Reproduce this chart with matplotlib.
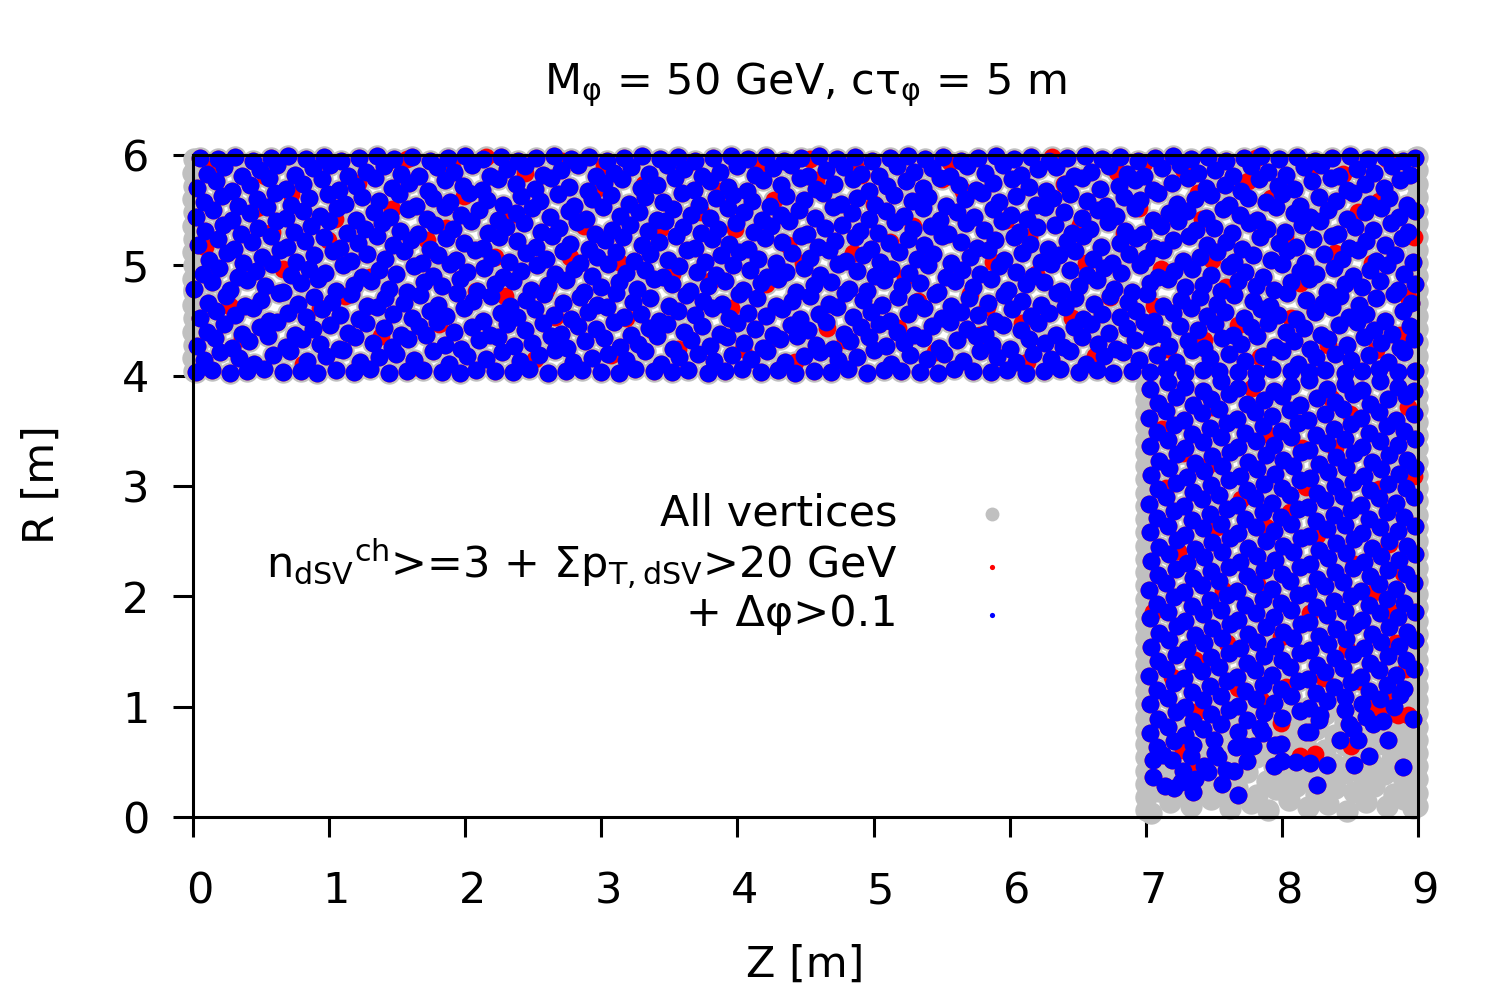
import numpy as np
import matplotlib
matplotlib.use("Agg")
import matplotlib.pyplot as plt
from matplotlib.transforms import ScaledTranslation

# vertex positions, "Z R" pairs in cm
# vertices passing all cuts (blue), barrel part R 4-6 m
blue_top = """
2 403, 14 405, 27 402, 40 404, 52 406, 66 403, 79 404, 91 402, 105 405, 118 403, 130 406, 144 402, 157 404, 169 405, 183 403, 196 402, 208 405, 222 404, 235 403, 247 406, 261 402, 274 404, 286 405, 300 403, 313 402, 325 406, 339 404, 352 403, 364 405, 378 402, 391 404, 403 406, 417 403, 430 405, 442 402, 456 404, 469 403, 481 406, 495 402, 508 405, 520 404, 534 403, 547 402, 559 406, 573 404, 586 403, 598 405, 612 402, 625 404, 637 406, 651 403, 664 405, 676 402, 690 404, 703 403, 715 406, 729 402, 742 405, 754 404, 768 403, 781 402, 793 406, 807 404, 820 403, 832 405, 846 402, 859 404, 871 406, 885 403, 898 404
8 414, 20 421, 34 416, 45 411, 59 419, 71 422, 84 413, 98 418, 110 423, 123 412, 137 417, 149 420, 162 414, 176 422, 188 411, 201 418, 215 415, 227 421, 240 413, 254 419, 266 423, 279 412, 293 416, 305 420, 318 414, 332 422, 344 411, 357 417, 371 420, 383 413, 396 419, 410 415, 422 422, 435 412, 449 418, 461 421, 474 414, 488 417, 500 423, 513 411, 527 419, 539 415, 552 420, 566 413, 578 422, 591 417, 605 412, 617 420, 630 415, 644 422, 656 411, 669 418, 683 421, 695 414, 708 419, 722 412, 734 423, 747 416, 761 420, 773 413, 786 418, 800 422, 812 411, 825 417, 839 420, 851 414, 864 419, 878 412, 890 421
3 427, 16 434, 29 425, 41 431, 55 436, 68 426, 80 433, 93 429, 107 424, 119 435, 132 430, 146 426, 158 433, 171 437, 185 428, 197 424, 210 432, 224 435, 236 427, 249 430, 263 436, 275 425, 288 431, 302 434, 314 426, 327 429, 341 436, 353 424, 366 432, 380 427, 392 435, 405 430, 419 425, 431 433, 444 436, 458 428, 470 424, 483 431, 497 435, 509 427, 522 430, 536 434, 548 425, 561 432, 575 436, 587 428, 600 424, 614 433, 626 430, 639 426, 653 435, 665 429, 678 424, 692 432, 704 436, 717 427, 731 431, 743 425, 756 434, 770 429, 782 436, 795 426, 809 431, 821 424, 834 433, 848 428, 860 435, 873 430, 887 425, 897 433
10 440, 23 447, 36 438, 49 444, 62 449, 75 437, 88 442, 101 446, 114 439, 127 448, 140 443, 153 437, 166 445, 179 449, 192 440, 205 444, 218 437, 231 447, 244 441, 257 448, 270 438, 283 445, 296 442, 309 449, 322 437, 335 443, 348 447, 361 440, 374 445, 387 438, 400 448, 413 442, 426 437, 439 446, 452 441, 465 449, 478 438, 491 444, 504 447, 517 440, 530 437, 543 445, 556 449, 569 442, 582 438, 595 446, 608 441, 621 448, 634 437, 647 444, 660 447, 673 439, 686 443, 699 449, 712 438, 725 445, 738 441, 751 447, 764 437, 777 444, 790 448, 803 440, 816 443, 829 437, 842 446, 855 449, 868 441, 881 438, 894 445
5 452, 17 459, 31 455, 44 461, 56 450, 70 457, 83 453, 95 460, 108 455, 122 451, 135 462, 147 456, 161 452, 174 459, 186 454, 199 461, 213 450, 226 457, 238 453, 251 460, 265 455, 278 451, 290 458, 304 462, 317 453, 329 456, 342 450, 356 459, 369 455, 381 461, 394 452, 408 457, 421 454, 433 460, 446 451, 460 456, 473 462, 485 453, 498 458, 512 450, 525 456, 537 461, 550 452, 564 458, 577 455, 589 450, 602 460, 616 454, 629 457, 641 462, 654 451, 668 456, 681 453, 693 459, 706 450, 720 457, 733 461, 745 454, 758 458, 772 452, 785 460, 797 455, 810 451, 824 458, 837 462, 849 453, 862 456, 876 450, 889 459
11 466, 24 472, 38 463, 50 469, 63 475, 77 465, 89 471, 102 467, 116 474, 128 463, 141 470, 155 466, 167 473, 180 464, 194 475, 206 468, 219 472, 233 463, 245 469, 258 474, 272 466, 284 471, 297 464, 311 475, 323 467, 336 470, 350 463, 362 473, 375 468, 389 465, 401 474, 414 470, 428 463, 440 468, 453 472, 467 465, 479 475, 492 469, 506 464, 518 471, 531 467, 545 474, 557 463, 570 470, 584 466, 596 473, 609 468, 623 464, 635 475, 648 470, 662 465, 674 472, 687 467, 701 474, 713 463, 726 469, 740 471, 752 465, 765 473, 779 468, 791 463, 804 475, 818 469, 830 466, 843 472, 857 464, 869 470, 882 474, 895 466
1 479, 14 485, 27 478, 40 487, 53 481, 66 476, 79 484, 92 488, 105 477, 118 482, 131 486, 144 479, 157 476, 170 485, 183 481, 196 488, 209 477, 222 483, 235 486, 248 478, 261 482, 274 487, 287 476, 300 480, 313 485, 326 479, 339 488, 352 483, 365 477, 378 481, 391 486, 404 478, 417 484, 430 488, 443 476, 456 482, 469 485, 482 479, 495 477, 508 487, 521 481, 534 484, 547 476, 560 486, 573 480, 586 488, 599 478, 612 483, 625 485, 638 477, 651 481, 664 487, 677 479, 690 476, 703 484, 716 488, 729 480, 742 482, 755 477, 768 486, 781 481, 794 478, 807 485, 820 488, 833 476, 846 483, 859 480, 872 486, 885 478, 898 483
7 492, 19 498, 33 489, 46 495, 58 501, 72 491, 85 497, 97 493, 110 500, 124 489, 137 496, 149 492, 162 499, 176 490, 189 501, 201 494, 214 498, 228 489, 241 495, 253 500, 266 492, 280 497, 293 490, 305 501, 318 493, 332 496, 345 489, 357 499, 370 494, 384 491, 397 500, 409 496, 422 489, 436 494, 449 498, 461 491, 474 501, 488 495, 501 490, 513 497, 526 493, 540 500, 553 489, 565 496, 578 492, 592 499, 605 494, 617 490, 630 501, 644 496, 657 491, 669 498, 682 493, 696 500, 709 489, 721 495, 734 497, 748 491, 761 499, 773 494, 786 489, 800 501, 813 495, 825 492, 838 498, 852 490, 865 496, 877 500, 890 492
12 505, 25 511, 37 502, 51 508, 64 514, 76 503, 89 509, 103 513, 116 504, 128 510, 141 506, 155 513, 168 502, 180 509, 193 505, 207 514, 220 507, 232 503, 245 511, 259 506, 272 513, 284 502, 297 508, 311 512, 324 504, 336 510, 349 505, 363 514, 376 503, 388 509, 401 512, 415 506, 428 502, 440 511, 453 507, 467 514, 480 504, 492 509, 505 503, 519 512, 532 506, 544 510, 557 502, 571 508, 584 514, 596 505, 609 511, 623 503, 636 509, 648 513, 661 506, 675 502, 688 510, 700 507, 713 514, 727 504, 740 508, 752 512, 765 503, 779 509, 792 505, 804 513, 817 502, 831 510, 844 506, 856 514, 869 504, 883 509, 896 503
4 518, 18 524, 30 515, 43 521, 57 527, 69 517, 82 522, 96 526, 108 516, 121 520, 135 527, 147 518, 160 523, 174 515, 186 525, 199 520, 213 516, 225 526, 238 522, 252 517, 264 527, 277 519, 291 515, 303 523, 316 526, 330 518, 342 521, 355 527, 369 516, 381 524, 394 519, 408 515, 420 525, 433 521, 447 527, 459 517, 472 522, 486 526, 498 515, 511 520, 525 524, 537 518, 550 527, 564 521, 576 516, 589 523, 603 526, 615 519, 628 515, 642 522, 654 527, 667 517, 681 520, 693 525, 706 516, 720 523, 732 527, 745 518, 759 521, 771 515, 784 526, 798 520, 810 517, 823 524, 837 527, 849 516, 862 522, 876 518, 888 525
9 531, 22 537, 35 528, 48 534, 61 540, 74 530, 87 536, 100 540, 113 529, 126 533, 139 538, 152 531, 165 528, 178 537, 191 533, 204 540, 217 529, 230 535, 243 538, 256 530, 269 534, 282 539, 295 528, 308 532, 321 537, 334 531, 347 540, 360 535, 373 529, 386 533, 399 538, 412 530, 425 536, 438 540, 451 528, 464 534, 477 537, 490 531, 503 529, 516 539, 529 533, 542 536, 555 528, 568 538, 581 532, 594 540, 607 530, 620 535, 633 537, 646 529, 659 533, 672 539, 685 531, 698 528, 711 536, 724 540, 737 532, 750 534, 763 529, 776 538, 789 533, 802 530, 815 537, 828 540, 841 528, 854 535, 867 532, 880 538, 893 530
2 544, 15 550, 29 541, 42 547, 54 553, 68 543, 81 549, 93 545, 106 552, 120 541, 133 548, 145 544, 158 551, 172 542, 185 553, 197 546, 210 550, 224 541, 237 547, 249 552, 262 544, 276 549, 289 542, 301 553, 314 545, 328 548, 341 541, 353 551, 366 546, 380 543, 393 552, 405 548, 418 541, 432 546, 445 550, 457 543, 470 553, 484 547, 497 542, 509 549, 522 545, 536 552, 549 541, 561 548, 574 544, 588 551, 601 546, 613 542, 626 553, 640 548, 653 543, 665 550, 678 545, 692 552, 705 541, 717 547, 730 549, 744 543, 757 551, 769 546, 782 541, 796 553, 809 547, 821 544, 834 550, 848 542, 861 548, 873 552, 886 544, 898 549
8 557, 21 563, 33 554, 47 560, 60 566, 72 555, 85 561, 99 565, 112 556, 124 562, 137 558, 151 565, 164 554, 176 561, 189 557, 203 566, 216 559, 228 555, 241 563, 255 558, 268 565, 280 554, 293 560, 307 564, 320 556, 332 562, 345 557, 359 566, 372 555, 384 561, 397 564, 411 558, 424 554, 436 563, 449 559, 463 566, 476 556, 488 561, 501 555, 515 564, 528 558, 540 562, 553 554, 567 560, 580 566, 592 557, 605 563, 619 555, 632 561, 644 565, 657 558, 671 554, 684 562, 696 559, 709 566, 723 556, 736 560, 748 564, 761 555, 775 561, 788 557, 800 565, 813 554, 827 562, 840 558, 852 566, 865 556, 879 561, 892 555
3 570, 17 576, 29 567, 42 573, 56 579, 68 569, 81 574, 95 578, 107 568, 120 572, 134 579, 146 570, 159 575, 173 567, 185 577, 198 572, 212 568, 224 578, 237 574, 251 569, 263 579, 276 571, 290 567, 302 575, 315 578, 329 570, 341 573, 354 579, 368 568, 380 576, 393 571, 407 567, 419 577, 432 573, 446 579, 458 569, 471 574, 485 578, 497 567, 510 572, 524 576, 536 570, 549 579, 563 573, 575 568, 588 575, 602 578, 614 571, 627 567, 641 574, 653 579, 666 569, 680 572, 692 577, 705 568, 719 575, 731 579, 744 570, 758 573, 770 567, 783 578, 797 572, 809 569, 822 576, 836 579, 848 568, 861 574, 875 570, 887 577
10 583, 23 589, 36 581, 49 586, 62 591, 75 582, 88 588, 101 591, 114 581, 127 585, 140 590, 153 583, 166 581, 179 589, 192 585, 205 591, 218 581, 231 587, 244 590, 257 582, 270 586, 283 591, 296 581, 309 584, 322 589, 335 583, 348 591, 361 587, 374 581, 387 585, 400 590, 413 582, 426 588, 439 591, 452 581, 465 586, 478 589, 491 583, 504 581, 517 590, 530 585, 543 588, 556 581, 569 590, 582 584, 595 591, 608 582, 621 587, 634 589, 647 581, 660 585, 673 590, 686 583, 699 581, 712 588, 725 591, 738 584, 751 586, 764 581, 777 590, 790 585, 803 582, 816 589, 829 591, 842 581, 855 587, 868 584, 881 590, 894 582
5 597, 18 596, 31 598, 44 595, 57 597, 70 599, 83 596, 96 598, 109 595, 122 597, 135 599, 148 596, 161 598, 174 595, 187 597, 200 599, 213 596, 226 598, 239 595, 252 597, 265 599, 278 596, 291 598, 304 595, 317 597, 330 599, 343 596, 356 598, 369 595, 382 597, 395 599, 408 596, 421 598, 434 595, 447 597, 460 599, 473 596, 486 598, 499 595, 512 597, 525 599, 538 596, 551 598, 564 595, 577 597, 590 599, 603 596, 616 598, 629 595, 642 597, 655 599, 668 596, 681 598, 694 595, 707 597, 720 599, 733 596, 746 598, 759 595, 772 597, 785 599, 798 596, 811 598, 824 595, 837 597, 850 599, 863 596, 876 598, 889 595, 898 597
"""

# vertices passing all cuts, endcap part Z 7-9 m
blue_side = """
703 388, 716 394, 729 390, 742 386, 755 395, 768 389, 781 393, 794 386, 807 391, 820 396, 833 388, 846 392, 859 387, 872 395, 885 390, 897 386
709 375, 722 381, 735 373, 748 379, 761 383, 774 374, 787 378, 800 382, 813 373, 826 380, 839 376, 852 383, 865 374, 878 379, 891 382
702 362, 715 368, 728 360, 741 366, 754 370, 767 361, 780 367, 793 363, 806 369, 819 360, 832 365, 845 370, 858 362, 871 367, 884 360, 897 365
708 349, 721 355, 734 347, 747 353, 760 357, 773 348, 786 354, 799 350, 812 357, 825 346, 838 352, 851 356, 864 348, 877 354, 890 350
703 336, 716 342, 729 334, 742 340, 755 344, 768 335, 781 341, 794 337, 807 344, 820 333, 833 339, 846 343, 859 335, 872 341, 885 337, 898 343
710 323, 723 329, 736 321, 749 327, 762 331, 775 322, 788 328, 801 324, 814 331, 827 320, 840 326, 853 330, 866 322, 879 328, 892 324
704 310, 717 316, 730 308, 743 314, 756 318, 769 309, 782 315, 795 311, 808 318, 821 307, 834 313, 847 317, 860 309, 873 315, 886 311, 898 316
709 297, 722 303, 735 295, 748 301, 761 305, 774 296, 787 302, 800 298, 813 305, 826 294, 839 300, 852 304, 865 296, 878 302, 891 298
702 284, 715 290, 728 282, 741 288, 754 292, 767 283, 780 289, 793 285, 806 292, 819 281, 832 287, 845 291, 858 283, 871 289, 884 285, 897 290
708 271, 721 277, 734 269, 747 275, 760 279, 773 270, 786 276, 799 272, 812 279, 825 268, 838 274, 851 278, 864 270, 877 276, 890 272
703 258, 716 264, 729 256, 742 262, 755 266, 768 257, 781 263, 794 259, 807 266, 820 255, 833 261, 846 265, 859 257, 872 263, 885 259, 898 264
710 245, 723 251, 736 243, 749 249, 762 253, 775 244, 788 250, 801 246, 814 253, 827 242, 840 248, 853 252, 866 244, 879 250, 892 246
704 232, 717 238, 730 230, 743 236, 756 240, 769 231, 782 237, 795 233, 808 240, 821 229, 834 235, 847 239, 860 231, 873 237, 886 233, 898 238
709 219, 722 225, 735 217, 748 223, 761 227, 774 218, 787 224, 800 220, 813 227, 826 216, 839 222, 852 226, 865 218, 878 224, 891 220
702 206, 715 212, 728 204, 741 210, 754 214, 767 205, 780 211, 793 207, 806 214, 819 203, 832 209, 845 213, 858 205, 871 211, 884 207, 897 212
708 193, 721 199, 734 191, 747 197, 760 201, 773 192, 786 198, 799 194, 812 201, 825 190, 838 196, 851 200, 864 192, 877 198, 890 194
703 180, 716 186, 729 178, 742 184, 755 188, 768 179, 781 185, 794 181, 807 188, 820 177, 833 183, 846 187, 859 179, 872 185, 885 181, 898 186
710 167, 723 173, 736 165, 749 171, 762 175, 775 166, 788 172, 801 168, 814 175, 827 164, 840 170, 853 174, 866 166, 879 172, 892 168
704 154, 717 160, 730 152, 743 158, 756 162, 769 153, 782 159, 795 155, 808 162, 821 151, 834 157, 847 161, 860 153, 873 159, 886 155, 898 160
709 141, 722 147, 735 139, 748 145, 761 149, 774 140, 787 146, 800 142, 813 149, 826 138, 839 144, 852 148, 865 140, 878 146, 891 142
702 128, 715 134, 728 126, 741 132, 754 136, 767 127, 780 133, 793 129, 806 136, 819 125, 832 131, 845 135, 858 127, 871 133, 884 129, 897 134
708 115, 721 121, 734 113, 747 119, 760 123, 773 114, 786 120, 799 116, 812 123, 825 112, 838 118, 851 122, 864 114, 877 120, 890 116
703 102, 716 108, 729 100, 742 106, 755 110, 768 101, 781 107, 794 103, 807 110, 820 99, 833 105, 846 109, 859 102, 872 107, 887 111
709 89, 722 95, 735 87, 748 93, 761 97, 774 88, 787 94, 800 90, 813 96, 828 92, 846 97
703 76, 716 82, 729 74, 742 80, 755 84, 768 77, 784 81
708 63, 721 69, 735 65, 750 70
705 36, 714 28, 721 26, 726 32, 735 23, 736 34, 746 41, 756 30, 759 43, 765 42, 768 20, 774 51, 794 46, 800 51, 810 50, 821 49, 826 29, 833 47, 843 70, 853 47, 864 55, 878 70, 889 45, 856 70
705 52, 713 56, 719 52, 727 42, 733 55, 743 46, 751 58, 753 54, 766 63, 773 64, 779 64, 786 76, 795 65, 799 66, 818 77, 821 77, 827 88, 849 84, 852 80, 862 91, 867 84, 874 87, 882 100, 896 89
"""

# vertices passing only the track / sum-pT cuts (red, not blue)
red_only = """
15 588, 47 552, 66 497, 93 461, 121 575, 138 436, 172 523, 190 589, 208 477, 233 546, 251 415, 277 508, 296 569, 318 452, 343 533, 362 591, 381 487, 404 424, 427 559, 448 502, 466 443, 491 582, 512 521, 533 468, 556 594, 578 437, 597 541, 619 492, 640 574, 663 418, 684 529, 706 463, 727 587, 749 505, 768 446, 792 561, 813 484, 834 428, 856 548, 877 596, 893 471
27 463, 58 530, 81 411, 104 542, 130 489, 157 596, 181 447, 199 563, 222 508, 244 584, 266 453, 287 536, 307 419, 331 574, 352 492, 373 548, 395 461, 416 591, 437 518, 458 577, 479 432, 500 556, 523 489, 545 421, 566 567, 588 503, 609 448, 631 598, 652 537, 674 471, 695 552, 716 424, 738 566, 759 480, 781 597, 802 527, 824 459, 845 583, 866 502, 887 437
9 517, 36 434, 72 565, 112 472, 146 551, 163 408, 215 598, 259 478, 302 591, 337 441, 388 567, 421 483, 453 596, 485 511, 518 443, 550 578, 583 462, 614 526, 646 452, 679 585, 711 497, 743 432, 775 576, 807 452, 839 511, 871 558, 897 526
53 581, 99 523, 141 592, 186 534, 229 472, 271 595, 313 503, 356 424, 398 533, 442 412, 486 590, 529 536, 571 474, 613 412, 656 502, 699 593, 741 542, 784 417, 826 591, 869 423
712 352, 745 318, 778 389, 806 276, 839 334, 871 297, 893 372, 724 241, 757 206, 788 263, 821 185, 853 229, 884 158, 736 142, 768 117, 799 163, 831 126, 862 101, 891 134
715 298, 749 372, 782 211, 815 334, 848 152, 879 247, 705 186, 738 96, 770 288, 803 118, 836 380, 868 204, 897 309, 727 330, 760 158, 792 345, 826 256, 857 123, 889 221
719 127, 752 263, 785 106, 818 299, 850 365, 882 185
735 46, 727 61, 813 55, 824 57, 851 64, 799 85, 871 97, 885 92, 893 92, 880 106
"""

# remaining vertices (grey only)
gray_only = """
704 4, 718 14, 733 10, 748 16, 762 8, 777 13, 790 6, 805 15, 819 9, 834 12, 848 5, 862 14, 877 10, 890 16, 896 8
710 24, 724 21, 739 27, 753 22, 767 26, 782 20, 796 25, 810 28, 825 21, 839 26, 853 23, 868 28, 882 21, 895 26
703 36, 717 40, 731 34, 746 39, 760 35, 774 41, 789 33, 803 38, 817 41, 832 35, 846 40, 860 34, 875 39, 889 36, 898 41
709 48, 723 53, 738 47, 752 52, 766 49, 781 54, 795 47, 809 51, 824 54, 838 48, 852 52, 867 47, 881 53, 894 49
703 62, 717 66, 731 60, 746 65, 760 61, 774 67, 789 60, 803 64, 817 67, 832 61, 846 65, 860 60, 875 66, 889 62, 898 65
710 75, 724 79, 739 73, 753 78, 767 74, 782 80, 796 73, 810 77, 825 80, 839 74, 853 78, 868 73, 882 79, 895 75
760 88, 774 92, 789 86, 803 91, 817 87, 832 93, 846 86, 860 90, 875 92, 889 87, 898 91
820 100, 834 104, 848 98, 862 103, 876 99, 890 105, 898 100
1 404, 0 416, 1 428, 0 440, 1 452, 0 464, 1 476, 0 488, 1 500, 0 512, 1 524, 0 536, 1 548, 0 560, 1 572, 0 584, 1 596
899 10, 899 22, 899 34, 899 46, 899 58, 899 70, 899 82, 899 94, 899 106, 899 118, 899 130, 899 142, 899 154, 899 166, 899 178, 899 190, 899 202
899 214, 899 226, 899 238, 899 250, 899 262, 899 274, 899 286, 899 298, 899 310, 899 322, 899 334, 899 346, 899 358, 899 370, 899 382, 899 394
899 406, 899 418, 899 430, 899 442, 899 454, 899 466, 899 478, 899 490, 899 502, 899 514, 899 526, 899 538, 899 550, 899 562, 899 574, 899 586, 899 598
700 6, 700 18, 700 30, 700 42, 700 54, 700 66, 700 78, 700 90, 700 102, 700 114, 700 126, 700 138, 700 150, 700 162, 700 174, 700 186, 700 198
700 210, 700 222, 700 234, 700 246, 700 258, 700 270, 700 282, 700 294, 700 306, 700 318, 700 330, 700 342, 700 354, 700 366, 700 378, 700 390
"""

title = r'M$_\mathregular{φ}$ = 50 GeV, cτ$_\mathregular{φ}$ = 5 m'
labels = ['All vertices',
          r'n$_\mathregular{dSV}$$^\mathregular{ch}$>=3 + Σp$_\mathregular{T,dSV}$>20 GeV',
          '+ Δφ>0.1']


def pairs(s):
    a = np.array(s.replace(',', ' ').split(), dtype=float).reshape(-1, 2)
    return a / 100.0


blue = np.vstack([pairs(blue_top), pairs(blue_side)])
red = np.vstack([pairs(red_only), blue])
gray = np.vstack([pairs(gray_only), red])

fs = 31
plt.rcParams['font.family'] = 'DejaVu Sans'
plt.rcParams['font.size'] = fs

fig = plt.figure(figsize=(15, 10), dpi=100)
ax = fig.add_axes([193/1500, 183/1000, 1225/1500, 662/1000])

ax.scatter(gray[:, 0], gray[:, 1], s=260, c='#c0c0c0', linewidths=0,
           clip_on=False, label=labels[0], zorder=2)
ax.scatter(red[:, 0], red[:, 1], s=165, c='#ff0000', linewidths=0,
           clip_on=False, label=labels[1], zorder=3)
ax.scatter(blue[:, 0], blue[:, 1], s=165, c='#0000ff', linewidths=0,
           clip_on=False, label=labels[2], zorder=4)

ax.set_xlim(0, 9)
ax.set_ylim(0, 6)
ax.set_xticks(range(10))
ax.set_yticks(range(7))
for sp in ax.spines.values():
    sp.set_linewidth(2.2)
    sp.set_zorder(5)
ax.tick_params(direction='out', length=14.4, width=2.2, labelsize=fs)
ax.tick_params(axis='x', pad=24)
ax.tick_params(axis='y', pad=17)

# gnuplot puts the x tick labels a little right of the tick
off = ScaledTranslation(7/100, 0, fig.dpi_scale_trans)
for t in ax.xaxis.get_major_ticks():
    t.label1.set_transform(t.label1.get_transform() + off)

ax.set_xlabel('Z [m]', fontsize=fs)
ax.xaxis.label.set_va('center')
ax.xaxis.set_label_coords(0.5, (817 - 965) / 662)
ax.set_ylabel('R [m]', fontsize=fs)
ax.yaxis.label.set_va('center')
ax.yaxis.set_label_coords((42 - 193) / 1225, (817 - 485) / 662)

fig.text(805/1500, 1 - 94/1000, title, ha='center', va='baseline', fontsize=fs)

leg = ax.legend(loc='center right', bbox_to_anchor=(1035/1500, 1 - 564/1000),
                bbox_transform=fig.transFigure, frameon=False, markerfirst=False,
                fontsize=fs, handlelength=2.0, handletextpad=1.2, borderpad=0,
                borderaxespad=0, labelspacing=0.05, scatterpoints=1)
leg.legend_handles[0].set_sizes([100])
leg.legend_handles[1].set_sizes([14])
leg.legend_handles[2].set_sizes([14])

fig.savefig('out.png', dpi=100)
